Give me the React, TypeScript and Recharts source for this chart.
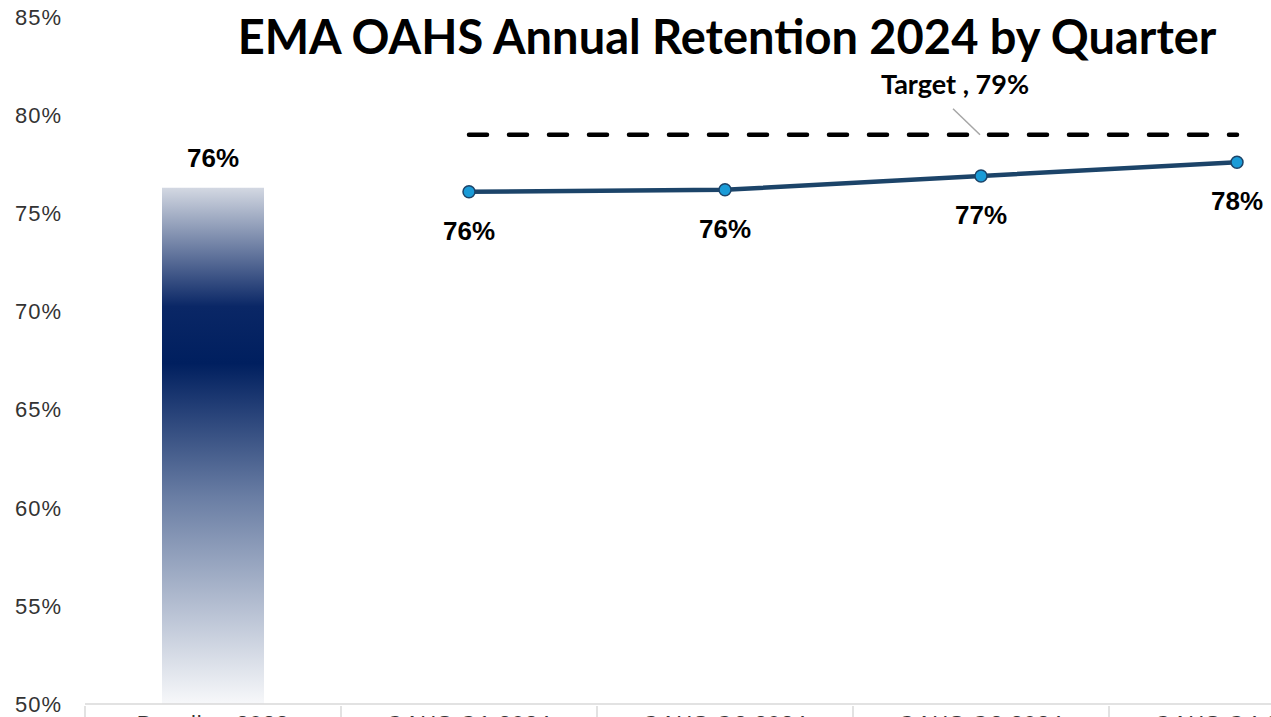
import React from 'react';
import { ComposedChart, Bar, Line, XAxis, YAxis, LabelList } from 'recharts';

const categories = ['Baseline 2023', 'OAHS Q1 2024', 'OAHS Q2 2024', 'OAHS Q3 2024', 'OAHS Q4 2024'];
const baseline = [76.3, null, null, null, null];
const quarterly = [null, 76.1, 76.2, 76.9, 77.6];
const target = [null, 79, 79, 79, 79];
const yTicks = [50, 55, 60, 65, 70, 75, 80, 85];

const data = categories.map((name, i) => ({
  name,
  baseline: baseline[i],
  quarterly: quarterly[i],
  target: target[i],
}));

const CHART_W = 1365;
const AXIS_W = 85;
const BAND = (CHART_W - AXIS_W) / categories.length;

const XTick = (props: any) => {
  const { x, y, payload, index } = props;
  return (
    <g>
      <line x1={x - BAND / 2} y1={y} x2={x - BAND / 2} y2={y + 30} stroke="#d9d9d9" strokeWidth={1.5} />
      {index === categories.length - 1 && (
        <line x1={x + BAND / 2} y1={y} x2={x + BAND / 2} y2={y + 30} stroke="#d9d9d9" strokeWidth={1.5} />
      )}
      <text x={x} y={y + 25} textAnchor="middle" fontSize={22} fill="#333" fontFamily="Liberation Sans, Arial" letterSpacing={1}>
        {payload.value}
      </text>
    </g>
  );
};

const lineLabel = (props: any) => {
  const { x, y, value } = props;
  if (value == null) return null;
  return (
    <text x={x} y={y + 48} textAnchor="middle" fontSize={26} fontWeight="bold" fill="#000" fontFamily="Liberation Sans, Arial">
      {Math.round(value)}%
    </text>
  );
};

const barLabel = (props: any) => {
  const { x, y, width, value } = props;
  if (value == null) return null;
  return (
    <text x={x + width / 2} y={y - 21} textAnchor="middle" fontSize={26} fontWeight="bold" fill="#000" fontFamily="Liberation Sans, Arial">
      {Math.round(value)}%
    </text>
  );
};

const targetLabel = (props: any) => {
  const { x, y, index, value } = props;
  if (index !== 3 || value == null) return null;
  return (
    <g>
      <line x1={x - 28} y1={y - 26} x2={x - 1} y2={y} stroke="#a6a6a6" strokeWidth={1.5} />
      <text x={x - 26} y={y - 41} textAnchor="middle" fontSize={27} fontWeight="bold" fill="#000" fontFamily="Lato, sans-serif">
        Target , {value}%
      </text>
    </g>
  );
};

export default function App() {
  return (
    <div style={{ position: 'absolute', left: 0, top: 0, width: 1271, height: 717, overflow: 'hidden', background: '#fff' }}>
      <div
        style={{
          position: 'absolute',
          left: 0,
          top: 8,
          width: 1454,
          textAlign: 'center',
          fontFamily: 'Lato, sans-serif',
          fontWeight: 700,
          fontSize: 47,
          lineHeight: '56px',
          color: '#000',
          zIndex: 2,
        }}
      >
        EMA OAHS Annual Retention 2024 by Quarter
      </div>
      <ComposedChart width={CHART_W} height={750} data={data} margin={{ top: 17, right: 0, left: 0, bottom: 0 }}>
        <defs>
          <linearGradient id="barGrad" x1="0" y1="0" x2="0" y2="1">
            <stop offset="0" stopColor="#d3d8e2" />
            <stop offset="0.23" stopColor="#0a2766" />
            <stop offset="0.34" stopColor="#001f5f" />
            <stop offset="0.6" stopColor="#6a7ea4" />
            <stop offset="1" stopColor="#f7f8fa" />
          </linearGradient>
        </defs>
        <XAxis
          dataKey="name"
          height={46}
          axisLine={{ stroke: '#d9d9d9', strokeWidth: 1.5 }}
          tickLine={false}
          tickSize={0}
          interval={0}
          tick={<XTick />}
        />
        <YAxis
          width={AXIS_W}
          domain={[50, 85]}
          ticks={yTicks}
          axisLine={false}
          tickLine={false}
          tickSize={0}
          tickMargin={23}
          tickFormatter={(v: number) => `${v}%`}
          tick={{ fontSize: 22, fill: '#333', fontFamily: 'Liberation Sans, Arial', letterSpacing: 1 }}
          interval={0}
        />
        <Bar dataKey="baseline" barSize={102} fill="url(#barGrad)" isAnimationActive={false}>
          <LabelList dataKey="baseline" content={barLabel} />
        </Bar>
        <Line
          dataKey="target"
          stroke="#000"
          strokeWidth={4.5}
          strokeDasharray="18 22"
          strokeLinecap="round"
          dot={false}
          activeDot={false}
          isAnimationActive={false}
        >
          <LabelList dataKey="target" content={targetLabel} />
        </Line>
        <Line
          dataKey="quarterly"
          stroke="#1c4469"
          strokeWidth={4.5}
          dot={{ r: 6, fill: '#1a9bd7', stroke: '#1c4469', strokeWidth: 1.5 }}
          activeDot={false}
          isAnimationActive={false}
        >
          <LabelList dataKey="quarterly" content={lineLabel} />
        </Line>
      </ComposedChart>
    </div>
  );
}
